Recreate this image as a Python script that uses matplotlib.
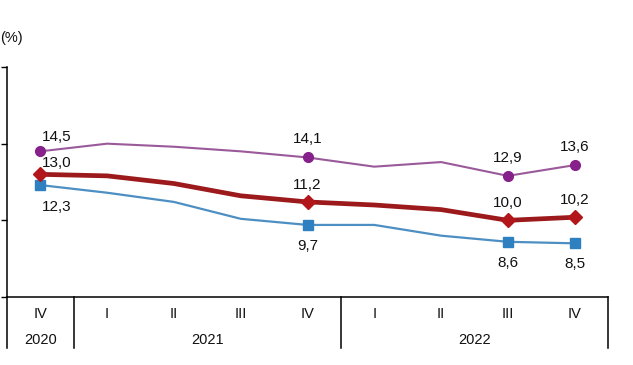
import matplotlib
matplotlib.use("Agg")
import matplotlib.pyplot as plt
import matplotlib.transforms as mtransforms

plt.rcParams['font.family'] = ['Liberation Sans', 'DejaVu Sans']

# quarters, 2020 Q4 .. 2022 Q4
quarters = ['IV', 'I', 'II', 'III', 'IV', 'I', 'II', 'III', 'IV']
years = ['2020', '2021', '2022']
year_spans = [(0, 0), (1, 4), (5, 8)]

purple_vals = [14.5, 15.0, 14.8, 14.5, 14.1, 13.5, 13.8, 12.9, 13.6]
red_vals = [13.0, 12.9, 12.4, 11.6, 11.2, 11.0, 10.7, 10.0, 10.2]
blue_vals = [12.3, 11.8, 11.2, 10.1, 9.7, 9.7, 9.0, 8.6, 8.5]

labelled = [0, 4, 7, 8]

fig = plt.figure(figsize=(6.33, 3.65), dpi=100)
ax = fig.add_axes([7 / 633, 68 / 365, 601 / 633, 230 / 365])

x = list(range(len(quarters)))

ax.plot(x, purple_vals, color='#9a5a9a', lw=1.5, marker='o', ms=7,
        mfc='#86208a', mec='#86208a', markevery=labelled, zorder=3)
ax.plot(x, red_vals, color='#9c1a1c', lw=3.4, marker='D', ms=7,
        mfc='#b3161a', mec='#b3161a', markevery=labelled, zorder=4)
ax.plot(x, blue_vals, color='#4d8fc2', lw=1.6, marker='s', ms=6.5,
        mfc='#2f80c0', mec='#2f80c0', markevery=labelled, zorder=3)

# data labels (offsets in points)
for i in labelled:
    dx = 12 if i == 0 else 0
    up_p = 10 if i == 0 else 13
    up_r = 8 if i == 0 else 12.5
    dn_b = -16 if i == 0 else -15
    for vals, dy in ((purple_vals, up_p), (red_vals, up_r), (blue_vals, dn_b)):
        ax.annotate(f"{vals[i]:.1f}".replace('.', ','), (i, vals[i]),
                    xytext=(dx, dy), textcoords='offset points',
                    ha='center', va='center', fontsize=11, color='#111111')

ax.set_xlim(-0.5, 8.5)
ax.set_ylim(5, 20)
ax.set_yticks([5, 10, 15, 20])
ax.tick_params(axis='y', direction='out', length=4, width=1, labelleft=False)
ax.tick_params(axis='x', bottom=False, labelbottom=False)
for s in ('top', 'right'):
    ax.spines[s].set_visible(False)
ax.spines['left'].set_linewidth(1.1)
ax.spines['bottom'].set_linewidth(1.1)

# category table under the axis
trans = mtransforms.blended_transform_factory(ax.transData, ax.transAxes)
for i, q in enumerate(quarters):
    ax.text(i, -0.074, q, transform=trans, ha='center', va='center',
            fontsize=10.5, color='#111111')
for yr, (a, b) in zip(years, year_spans):
    ax.text((a + b) / 2, -0.187, yr, transform=trans, ha='center',
            va='center', fontsize=10.5, color='#111111')
for xv in (-0.5, 0.5, 4.5, 8.5):
    ax.plot([xv, xv], [0, -0.222], transform=trans, color='black',
            lw=1.1, clip_on=False)

fig.text(0.0, 1 - 38 / 365, '(%)', ha='left', va='center', fontsize=10.5,
         color='#111111')

fig.savefig('out.png', dpi=100)
